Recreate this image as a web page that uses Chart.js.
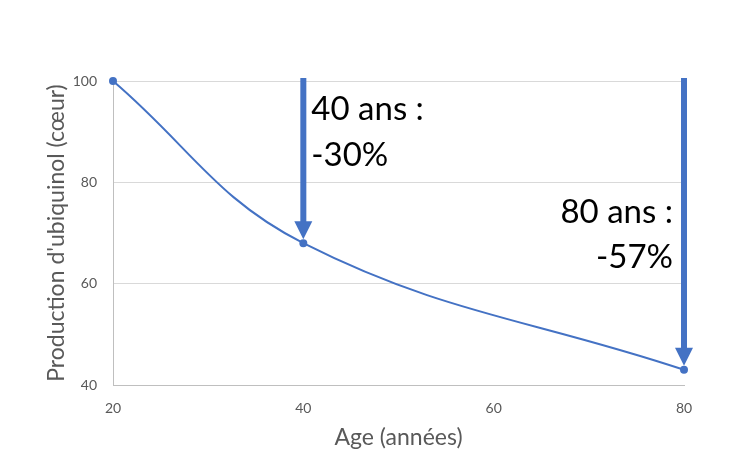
<!DOCTYPE html>
<html>
<head>
<meta charset="utf-8">
<script src="https://cdn.jsdelivr.net/npm/chart.js@4"></script>
<style>
  html, body { margin: 0; padding: 0; background: #fff; }
  #wrap { width: 750px; height: 465px; }
</style>
</head>
<body>
<div id="wrap"><canvas id="graphique"></canvas></div>
<script>
// donnees
var ages = [20, 40, 80];
var production = [100, 68, 43];
var xTicks = [20, 40, 60, 80];
var yTicks = [40, 60, 80, 100];
var reperesAges = [40, 80];
var reperesTextes = [['40 ans :', '-30%'], ['80 ans :', '-57%']];

var bleu = '#4472C4';
var gris = '#595959';
var police = 'Lato, "Noto Sans", sans-serif';

var points = ages.map(function(a, i) { return { x: a, y: production[i] }; });

// fleches + textes au dessus des points
var flechesPlugin = {
    id: 'fleches',
    afterDatasetsDraw: function(chart) {
        var ctx = chart.ctx;
        var xs = chart.scales.x, ys = chart.scales.y;
        var top = chart.chartArea.top;
        var haut = top - 3;
        ctx.save();
        reperesAges.forEach(function(age, i) {
            var val = production[ages.indexOf(age)];
            var x = xs.getPixelForValue(age);
            var pointe = ys.getPixelForValue(val) - 4;
            ctx.fillStyle = bleu;
            ctx.fillRect(x - 3, haut, 6, pointe - 17 - haut);
            ctx.beginPath();
            ctx.moveTo(x - 9, pointe - 18);
            ctx.lineTo(x + 9, pointe - 18);
            ctx.lineTo(x, pointe);
            ctx.closePath();
            ctx.fill();

            ctx.fillStyle = '#000';
            ctx.font = '33px ' + police;
            ctx.textBaseline = 'middle';
            var lignes = reperesTextes[i];
            if (i === 0) {
                ctx.textAlign = 'left';
                ctx.fillText(lignes[0], x + 8, top + 28);
                ctx.fillText(lignes[1], x + 8, top + 74);
            } else {
                ctx.textAlign = 'right';
                ctx.fillText(lignes[0], x - 11, top + 131);
                ctx.fillText(lignes[1], x - 11, top + 176);
            }
        });
        ctx.restore();
    }
};

new Chart(document.getElementById('graphique'), {
    type: 'scatter',
    data: {
        datasets: [{
            data: points,
            showLine: true,
            borderColor: bleu,
            backgroundColor: bleu,
            borderWidth: 2,
            pointRadius: 3,
            pointHoverRadius: 3,
            tension: 0.4,
            clip: false
        }]
    },
    options: {
        responsive: true,
        maintainAspectRatio: false,
        animation: false,
        layout: { padding: { left: 0, right: 66, top: 81, bottom: 0 } },
        plugins: {
            legend: { display: false },
            tooltip: { enabled: false }
        },
        scales: {
            x: {
                type: 'linear',
                min: 20,
                max: 80,
                afterFit: function(s) { s.height = 80; },
                afterBuildTicks: function(s) { s.ticks = xTicks.map(function(v) { return { value: v }; }); },
                grid: { display: false, drawTicks: false },
                border: { display: true, color: '#BFBFBF', width: 1 },
                ticks: { color: gris, padding: 15, font: { family: police, size: 14 } },
                title: {
                    display: true,
                    text: 'Age (années)',
                    color: gris,
                    font: { family: police, size: 23 },
                    padding: { top: 0, bottom: 14 }
                }
            },
            y: {
                min: 40,
                max: 100,
                afterFit: function(s) { s.width = 113; },
                afterBuildTicks: function(s) { s.ticks = yTicks.map(function(v) { return { value: v }; }); },
                grid: { color: '#D9D9D9', drawTicks: false },
                border: { display: true, color: '#BFBFBF', width: 1 },
                ticks: { color: gris, padding: 16, font: { family: police, size: 14 } },
                title: {
                    display: true,
                    text: "Production d'ubiquinol (cœur)",
                    color: gris,
                    font: { family: police, size: 23 },
                    padding: { top: 43, bottom: 0 }
                }
            }
        }
    },
    plugins: [flechesPlugin]
});
</script>
</body>
</html>
